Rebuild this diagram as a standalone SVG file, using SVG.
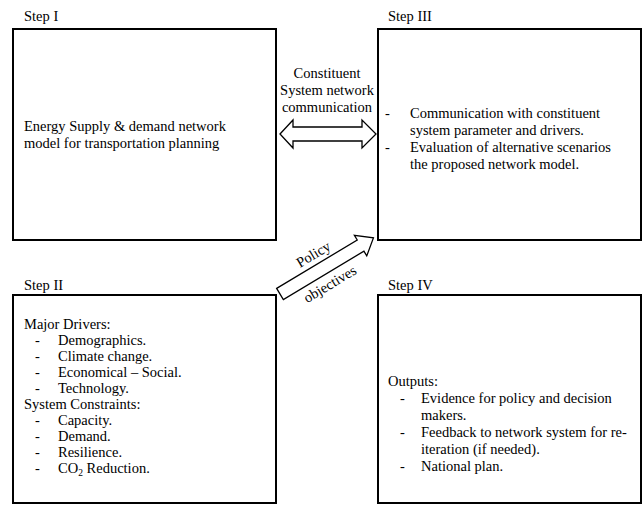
<svg xmlns="http://www.w3.org/2000/svg" width="643" height="506" viewBox="0 0 643 506">
<style>
text{font-family:"Liberation Serif","Times New Roman",serif;font-size:14.5px;fill:#000}
.box{fill:#fff;stroke:#000;stroke-width:2}
.arr{fill:#fff;stroke:#000;stroke-width:1.3;stroke-linejoin:miter}
.c{text-anchor:middle}
</style>
<rect width="643" height="506" fill="#fff"/>
<g id="step1">
<text x="24" y="21">Step I</text>
<rect class="box" x="13" y="29" width="263" height="211"/>
<text x="24" y="131">Energy Supply &amp; demand network</text>
<text x="24" y="148">model for transportation planning</text>
</g>
<g id="step3">
<text x="388" y="21">Step III</text>
<rect class="box" x="378" y="29" width="263" height="211"/>
<text x="385" y="118">-</text><text x="410" y="118">Communication with constituent</text>
<text x="410" y="135">system parameter and drivers.</text>
<text x="385" y="152">-</text><text x="410" y="152">Evaluation of alternative scenarios</text>
<text x="410" y="169">the proposed network model.</text>
</g>
<g id="step2">
<text x="24" y="290">Step II</text>
<rect class="box" x="13" y="295" width="263" height="208"/>
<text x="24" y="329">Major Drivers:</text>
<text x="35" y="345">-</text><text x="58" y="345">Demographics.</text>
<text x="35" y="361">-</text><text x="58" y="361">Climate change.</text>
<text x="35" y="377">-</text><text x="58" y="377">Economical – Social.</text>
<text x="35" y="393">-</text><text x="58" y="393">Technology.</text>
<text x="24" y="409">System Constraints:</text>
<text x="35" y="425">-</text><text x="58" y="425">Capacity.</text>
<text x="35" y="441">-</text><text x="58" y="441">Demand.</text>
<text x="35" y="457">-</text><text x="58" y="457">Resilience.</text>
<text x="35" y="473">-</text><text x="58" y="473">CO<tspan font-size="9.5" dy="3">2</tspan><tspan dy="-3"> Reduction.</tspan></text>
</g>
<g id="step4">
<text x="388" y="290">Step IV</text>
<rect class="box" x="378" y="295" width="263" height="208"/>
<text x="388" y="386">Outputs:</text>
<text x="400" y="403">-</text><text x="421" y="403">Evidence for policy and decision</text>
<text x="421" y="420">makers.</text>
<text x="400" y="437">-</text><text x="421" y="437">Feedback to network system for re-</text>
<text x="421" y="454">iteration (if needed).</text>
<text x="400" y="471">-</text><text x="421" y="471">National plan.</text>
</g>
<g id="connectors">
<g id="comm">
<path class="arr" d="M280,134 L293,120 V127 H362 V120 L376,134 L362,148 V141 H293 V148 Z"/>
<text class="c" x="327" y="78">Constituent</text>
<text class="c" x="327" y="95">System network</text>
<text class="c" x="327" y="112">communication</text>
</g>
<g id="policy" transform="translate(280,294) rotate(-31)">
<path class="arr" d="M0,-6.5 H94 V-12 L109,0 L94,12 V6.5 H0 Z"/>
<text class="c" x="49" y="-12">Policy</text>
<text class="c" x="48" y="22">objectives</text>
</g>
</g>
</svg>
